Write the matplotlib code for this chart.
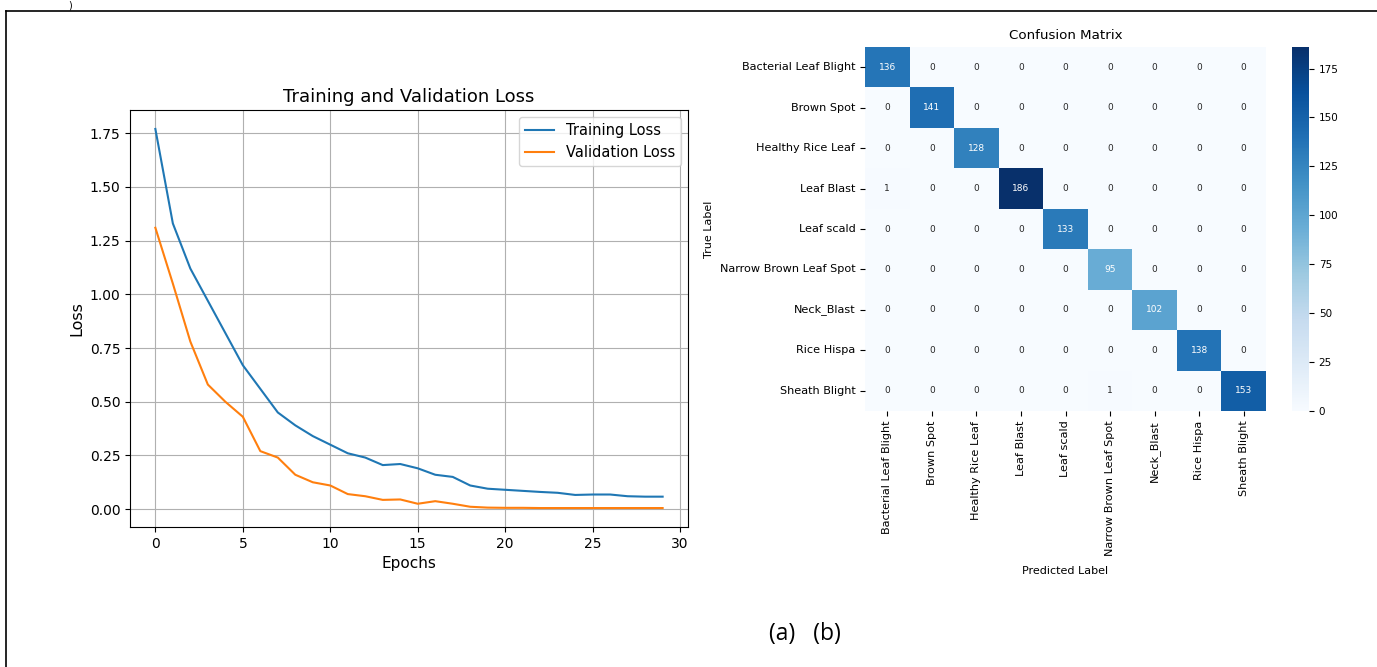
import matplotlib
matplotlib.use('Agg')
import matplotlib.pyplot as plt
import numpy as np
import seaborn as sns
from matplotlib.lines import Line2D

# loss curves
epochs = list(range(30))
train_loss = [1.77, 1.33, 1.12, 0.97, 0.82, 0.67, 0.56, 0.45, 0.39, 0.34,
              0.30, 0.26, 0.24, 0.205, 0.21, 0.19, 0.16, 0.15, 0.11, 0.095,
              0.09, 0.085, 0.08, 0.076, 0.066, 0.068, 0.068, 0.06, 0.058, 0.058]
val_loss = [1.31, 1.05, 0.78, 0.58, 0.50, 0.43, 0.27, 0.24, 0.16, 0.125,
            0.11, 0.07, 0.06, 0.043, 0.045, 0.025, 0.037, 0.025, 0.011, 0.007,
            0.006, 0.006, 0.005, 0.005, 0.005, 0.005, 0.005, 0.005, 0.005, 0.005]

# confusion matrix
classes = ['Bacterial Leaf Blight', 'Brown Spot', 'Healthy Rice Leaf', 'Leaf Blast',
           'Leaf scald', 'Narrow Brown Leaf Spot', 'Neck_Blast', 'Rice Hispa',
           'Sheath Blight']
diag_counts = [136, 141, 128, 186, 133, 95, 102, 138, 153]
off_diag = [(3, 0, 1), (8, 5, 1)]  # (true, predicted, count)

cm = np.diag(diag_counts)
for i, j, v in off_diag:
    cm[i, j] = v

W, H = 1377, 667
fig = plt.figure(figsize=(W / 100, H / 100), dpi=100)

# page frame (left and top edges only)
fig.add_artist(Line2D([6 / W, 6 / W], [0, 1 - 11 / H], color='black', lw=1.2))
fig.add_artist(Line2D([6 / W, 1], [1 - 11 / H, 1 - 11 / H], color='black', lw=1.2))
fig.text(70 / W, 1.0, ')', fontsize=7, ha='center', va='top')

# (a) training / validation loss
ax1 = fig.add_axes([130 / W, 1 - 527 / H, 558 / W, 417 / H])
ax1.plot(epochs, train_loss, label='Training Loss')
ax1.plot(epochs, val_loss, label='Validation Loss')
ax1.set_title('Training and Validation Loss', fontsize=13)
ax1.set_xlabel('Epochs', fontsize=11)
ax1.set_ylabel('Loss', fontsize=11.5)
ax1.tick_params(labelsize=10)
ax1.legend(fontsize=10.5)
ax1.grid(True)

# (b) confusion matrix
ax2 = fig.add_axes([865 / W, 1 - 411 / H, 401 / W, 364 / H])
axc = fig.add_axes([1292 / W, 1 - 411 / H, 17 / W, 364 / H])
sns.heatmap(cm, annot=True, fmt='d', cmap='Blues', ax=ax2, cbar_ax=axc,
            xticklabels=classes, yticklabels=classes, annot_kws={'fontsize': 6.5})
ax2.set_title('Confusion Matrix', fontsize=9.6)
ax2.set_xlabel('Predicted Label', fontsize=8, labelpad=7)
ax2.set_ylabel('True Label', fontsize=8)
ax2.tick_params(labelsize=8.1)
plt.setp(ax2.get_xticklabels(), rotation=90)
plt.setp(ax2.get_yticklabels(), rotation=0)
axc.tick_params(labelsize=7.5)

fig.text(805 / W, 1 - 634 / H, '(a)   (b)', fontsize=16.5, family='Open Sans',
         ha='center', va='center')

fig.savefig('out.png', dpi=100)
